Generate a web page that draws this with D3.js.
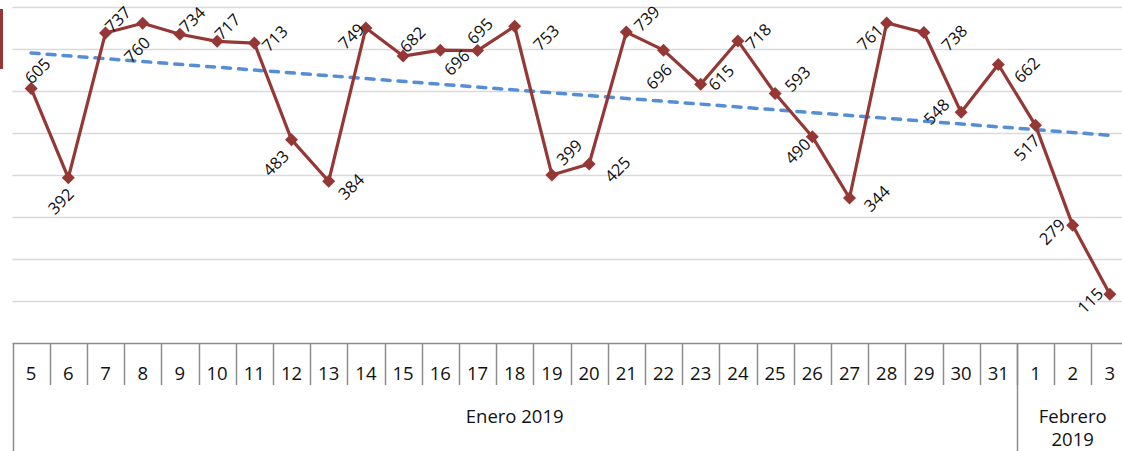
<!DOCTYPE html>
<html>
<head>
<meta charset="utf-8">
<script src="https://cdn.jsdelivr.net/npm/d3@7"></script>
<style>
  html, body { margin: 0; padding: 0; background: #fff; }
  svg { display: block; }
  text { font-family: "Open Sans", "Noto Sans", sans-serif; fill: #111; }
</style>
</head>
<body>
<svg id="chart" width="1122" height="451"></svg>
<script>
// ---- data ----
const days = ["5","6","7","8","9","10","11","12","13","14","15","16","17","18","19","20",
              "21","22","23","24","25","26","27","28","29","30","31","1","2","3"];
const values = [605,392,737,760,734,717,713,483,384,749,682,696,695,753,399,425,
                739,696,615,718,593,490,344,761,738,548,662,517,279,115];
const monthLabels = [["Enero 2019"], ["Febrero", "2019"]];
const monthDayCounts = [27, 3];
const yTicks = [100,200,300,400,500,600,700,800];

// label placement offsets (label centre relative to its point)
const labelOffsets = [[6,-18],[-8,23],[12,-14],[-6,26],[12,-15],[10,-15],[20,-5],[-16,23],
  [22,5],[-15,8],[9,-17],[16,12],[2,-20],[31,11],[17,-23],[28,5],[20,-14],[-5,26],
  [20,-7],[20,-5],[22,-15],[-15,14],[27,0],[-17,14],[30,5],[-25,-1],[28,5],[-9,22],
  [-21,6],[-20,6]];

// ---- layout ----
const svg = d3.select("#chart");
const W = 1122, H = 451;
const axisY = 343;
const x = d3.scaleBand().domain(d3.range(values.length)).range([12.5, 1128.5]).padding(0);
const bw = x.bandwidth();
const cx = i => x(i) + bw / 2;
const y = d3.scaleLinear().domain([0, 800]).range([axisY - 0.5, 6.5]);

const lineColor = "#953735";
const axisColor = "#8c8c8c";

// left red bar (cut-off legend)
svg.append("rect").attr("x", 0).attr("y", 9).attr("width", 3).attr("height", 60).attr("fill", lineColor);

// gridlines
svg.append("g").selectAll("line").data(yTicks).join("line")
  .attr("x1", 12.5).attr("x2", W)
  .attr("y1", d => Math.round(y(d)) + 0.5).attr("y2", d => Math.round(y(d)) + 0.5)
  .attr("stroke", "#d9d9d9").attr("stroke-width", 1.3);

// trendline (least squares)
const n = values.length;
const xm = d3.mean(d3.range(n)), ym = d3.mean(values);
let num = 0, den = 0;
values.forEach((v, i) => { num += (i - xm) * (v - ym); den += (i - xm) * (i - xm); });
const slope = num / den, intercept = ym - slope * xm;
svg.append("line")
  .attr("x1", cx(0)).attr("y1", y(intercept))
  .attr("x2", cx(n - 1)).attr("y2", y(intercept + slope * (n - 1)))
  .attr("stroke", "#558ED5").attr("stroke-width", 3.5)
  .attr("stroke-dasharray", "8,8").attr("stroke-linecap", "round");

// series line
const line = d3.line().x((d, i) => cx(i)).y(d => y(d));
svg.append("path").datum(values).attr("d", line)
  .attr("fill", "none").attr("stroke", lineColor).attr("stroke-width", 3.2)
  .attr("stroke-linejoin", "round");

// markers
const r = 6.5;
svg.append("g").selectAll("path").data(values).join("path")
  .attr("d", (d, i) => {
    const px = cx(i), py = y(d);
    return `M${px},${py - r}L${px + r},${py}L${px},${py + r}L${px - r},${py}Z`;
  })
  .attr("fill", lineColor);

// data labels
svg.append("g").selectAll("text").data(values).join("text")
  .attr("transform", (d, i) => `translate(${cx(i) + labelOffsets[i][0]},${y(d) + labelOffsets[i][1]}) rotate(-45)`)
  .attr("text-anchor", "middle").attr("dominant-baseline", "central")
  .style("font-size", "16.5px")
  .text(d => d);

// ---- category axis ----
const ax = svg.append("g");
ax.append("line").attr("x1", 12.5).attr("x2", W).attr("y1", axisY + 0.5).attr("y2", axisY + 0.5)
  .attr("stroke", axisColor).attr("stroke-width", 1.5);
// day separators
ax.selectAll("line.tick").data(d3.range(1, n + 1)).join("line").attr("class", "tick")
  .attr("x1", i => Math.round(x(i - 1) + bw) + 0.5).attr("x2", i => Math.round(x(i - 1) + bw) + 0.5)
  .attr("y1", axisY).attr("y2", 385)
  .attr("stroke", axisColor).attr("stroke-width", 1.5);
// month boundaries
let acc = 0;
const bounds = [0];
monthDayCounts.forEach(c => { acc += c; bounds.push(acc); });
ax.selectAll("line.mb").data(bounds.slice(0, -1)).join("line").attr("class", "mb")
  .attr("x1", b => Math.round(x(b)) + 0.5).attr("x2", b => Math.round(x(b)) + 0.5)
  .attr("y1", axisY).attr("y2", H)
  .attr("stroke", axisColor).attr("stroke-width", 1.5);
// day labels
ax.selectAll("text.day").data(days).join("text").attr("class", "day")
  .attr("x", (d, i) => cx(i)).attr("y", 372)
  .attr("text-anchor", "middle").attr("dominant-baseline", "central")
  .style("font-size", "18.5px").text(d => d);
// month labels
monthLabels.forEach((lines, m) => {
  const x0 = x(bounds[m]);
  const x1 = bounds[m + 1] >= n ? x(n - 1) + bw : x(bounds[m + 1]);
  const mx = (x0 + x1) / 2;
  lines.forEach((t, k) => {
    ax.append("text").attr("x", mx).attr("y", 415 + k * 23)
      .attr("text-anchor", "middle").attr("dominant-baseline", "central")
      .style("font-size", "18.5px").text(t);
  });
});
</script>
</body>
</html>
